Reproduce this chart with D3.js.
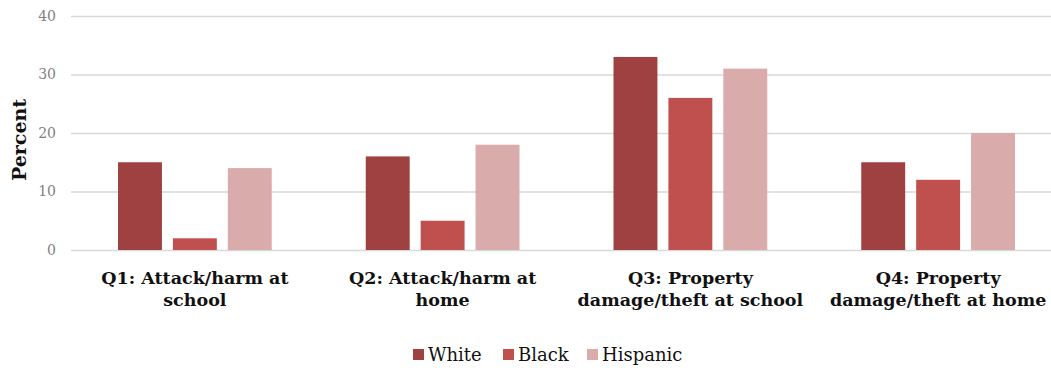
<!DOCTYPE html>
<html>
<head>
<meta charset="utf-8">
<script src="https://cdn.jsdelivr.net/npm/d3@7"></script>
<style>
  html, body { margin: 0; padding: 0; background: #fff; }
  svg { display: block; }
</style>
</head>
<body>
<svg id="chart" width="1051" height="368"></svg>
<script>
// Share of students reporting each worry, by group
const categories = [
  ["Q1: Attack/harm at", "school"],
  ["Q2: Attack/harm at", "home"],
  ["Q3: Property", "damage/theft at school"],
  ["Q4: Property", "damage/theft at home"]
];
const seriesNames = ["White", "Black", "Hispanic"];
const white    = [15, 16, 33, 15];
const black    = [2, 5, 26, 12];
const hispanic = [14, 18, 31, 20];
const yTicks = [0, 10, 20, 30, 40];

const colors = ["#9E4140", "#C0504D", "#DAABAB"];
const series = [white, black, hispanic];

const svg = d3.select("#chart");
const serif = "'DejaVu Serif', 'Liberation Serif', serif";

const plot = { left: 71, right: 1062, top: 16, bottom: 250 };

const x = d3.scaleBand()
  .domain(d3.range(categories.length))
  .range([plot.left, plot.right])
  .paddingInner(0)
  .paddingOuter(0);

const xInner = d3.scaleBand()
  .domain(d3.range(seriesNames.length))
  .range([47, x.bandwidth() - 47])
  .paddingInner(0.2);

const y = d3.scaleLinear().domain([0, 40]).range([plot.bottom, plot.top]);

// Gridlines and y tick labels
const yAxis = d3.axisLeft(y).tickValues(yTicks).tickSize(-(plot.right - plot.left)).tickPadding(15);
const gy = svg.append("g").attr("transform", `translate(${plot.left},0)`).call(yAxis);
gy.select(".domain").remove();
gy.selectAll(".tick line").attr("stroke", "#D9D9D9").attr("stroke-width", 1.3);
gy.selectAll(".tick text")
  .attr("fill", "#7F7F7F")
  .style("font-family", serif)
  .style("font-size", "14px");

// Bars
const groups = svg.append("g").selectAll("g")
  .data(categories)
  .join("g")
  .attr("transform", (d, i) => `translate(${x(i)},0)`);

groups.selectAll("rect")
  .data((d, i) => series.map((s, k) => ({ k, v: s[i] })))
  .join("rect")
  .attr("x", d => xInner(d.k))
  .attr("width", xInner.bandwidth())
  .attr("y", d => y(d.v))
  .attr("height", d => y(0) - y(d.v))
  .attr("fill", d => colors[d.k]);

// Category labels (two lines each)
const xAxis = d3.axisBottom(x).tickSize(0).tickFormat(() => "");
const gx = svg.append("g").attr("transform", `translate(0,${plot.bottom})`).call(xAxis);
gx.select(".domain").remove();
gx.selectAll(".tick").each(function(d) {
  const t = d3.select(this).append("text")
    .attr("text-anchor", "middle")
    .attr("fill", "#111")
    .style("font-family", serif)
    .style("font-size", "17.5px")
    .style("font-weight", "bold");
  categories[d].forEach((line, j) => {
    t.append("tspan").attr("x", 0).attr("y", 34 + j * 22).text(line);
  });
});

// Y axis title
svg.append("text")
  .attr("transform", `translate(26,${(plot.top + plot.bottom) / 2 + 7}) rotate(-90)`)
  .attr("text-anchor", "middle")
  .attr("fill", "#111")
  .style("font-family", serif)
  .style("font-size", "19px")
  .style("font-weight", "bold")
  .text("Percent");

// Legend
const legendX = [413, 503, 587];
const legend = svg.append("g").attr("transform", "translate(0,355)");
seriesNames.forEach((name, k) => {
  const g = legend.append("g").attr("transform", `translate(${legendX[k]},0)`);
  g.append("rect").attr("x", 0).attr("y", -6).attr("width", 11).attr("height", 11).attr("fill", colors[k]);
  g.append("text")
    .attr("x", 15).attr("y", 6)
    .attr("fill", "#111")
    .style("font-family", serif)
    .style("font-size", "18px")
    .text(name);
});
</script>
</body>
</html>
